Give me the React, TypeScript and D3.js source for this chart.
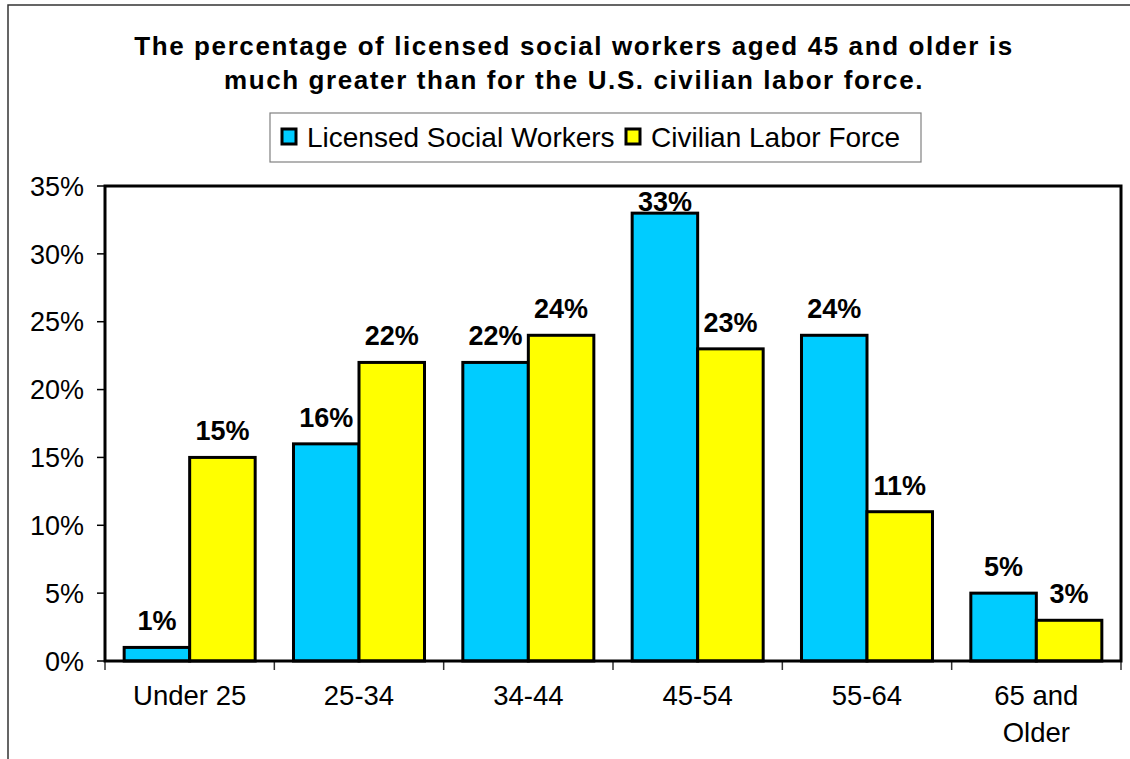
import React from 'react';
import { scaleBand, scaleLinear, range } from 'd3';

const categories = ['Under 25', '25-34', '34-44', '45-54', '55-64', '65 and Older'];
const categoryLines = [['Under 25'], ['25-34'], ['34-44'], ['45-54'], ['55-64'], ['65 and', 'Older']];
const seriesNames = ['Licensed Social Workers', 'Civilian Labor Force'];
const socialWorkers = [1, 16, 22, 33, 24, 5];
const laborForce = [15, 22, 24, 23, 11, 3];
const yTicks = [0, 5, 10, 15, 20, 25, 30, 35];
const titleLines = [
  'The percentage of licensed social workers aged 45 and older is',
  'much greater than for the U.S. civilian labor force.',
];

const colors = ['#00CCFF', '#FFFF00'];
const font = '"Liberation Sans", Arial, sans-serif';

const W = 1130;
const H = 759;
const plot = { left: 105, right: 1121, top: 186, bottom: 661 };

function App() {
  const x = scaleBand<string>().domain(categories).range([plot.left, plot.right]);
  const inner = scaleBand<string>()
    .domain(seriesNames)
    .range([0, x.bandwidth()])
    .paddingInner(0)
    .paddingOuter(0.2925);
  const y = scaleLinear().domain([0, 35]).range([plot.bottom, plot.top]);
  const series = [socialWorkers, laborForce];

  return (
    <div style={{ position: 'absolute', left: 0, top: 0 }}>
      <svg width={W} height={H} style={{ display: 'block', background: '#fff' }} fontFamily={font}>
        {/* outer chart border, runs off the picture at right and bottom */}
        <rect x={8} y={5} width={1200} height={900} fill="#fff" stroke="#333" strokeWidth={1.5} />

        {titleLines.map((t, i) => (
          <text
            key={i}
            x={574}
            y={55 + i * 34}
            textAnchor="middle"
            fontSize={26}
            fontWeight="bold"
            letterSpacing={1.6}
          >
            {t}
          </text>
        ))}

        {/* legend */}
        <rect x={270} y={113} width={651} height={49} fill="#fff" stroke="#808080" strokeWidth={1.2} />
        {seriesNames.map((s, i) => {
          const lx = i === 0 ? 282 : 626;
          return (
            <g key={s}>
              <rect x={lx} y={129} width={14} height={15} fill={colors[i]} stroke="#000" strokeWidth={3} />
              <text x={lx + 25} y={147} fontSize={28}>
                {s}
              </text>
            </g>
          );
        })}

        {/* y ticks */}
        {yTicks.map((t) => (
          <g key={t}>
            <line x1={97} x2={plot.left} y1={y(t)} y2={y(t)} stroke="#000" strokeWidth={1.5} />
            <text x={84} y={y(t)} dy="0.36em" textAnchor="end" fontSize={27}>
              {t}%
            </text>
          </g>
        ))}

        {/* x ticks */}
        {range(categories.length + 1).map((i) => {
          const tx = plot.left + i * x.step();
          return <line key={i} x1={tx} x2={tx} y1={plot.bottom} y2={plot.bottom + 9} stroke="#333" strokeWidth={1.5} />;
        })}

        {/* bars */}
        {categories.map((c, ci) =>
          seriesNames.map((s, si) => {
            const v = series[si][ci];
            const bx = (x(c) as number) + (inner(s) as number);
            return (
              <rect
                key={c + s}
                x={bx}
                y={y(v)}
                width={inner.bandwidth()}
                height={plot.bottom - y(v)}
                fill={colors[si]}
                stroke="#000"
                strokeWidth={3}
              />
            );
          })
        )}

        {/* plot frame */}
        <rect
          x={plot.left}
          y={plot.top}
          width={plot.right - plot.left}
          height={plot.bottom - plot.top}
          fill="none"
          stroke="#000"
          strokeWidth={3}
        />

        {/* data labels */}
        {categories.map((c, ci) =>
          seriesNames.map((s, si) => {
            const v = series[si][ci];
            const cx = (x(c) as number) + (inner(s) as number) + inner.bandwidth() / 2;
            const ly = Math.max(y(v) - 17, plot.top + 25);
            return (
              <text key={c + s} x={cx} y={ly} textAnchor="middle" fontSize={27} fontWeight="bold">
                {v}%
              </text>
            );
          })
        )}

        {/* category labels */}
        {categories.map((c, ci) => (
          <text key={c} x={(x(c) as number) + x.bandwidth() / 2} textAnchor="middle" fontSize={27.5}>
            {categoryLines[ci].map((ln, li) => (
              <tspan key={li} x={(x(c) as number) + x.bandwidth() / 2} y={705 + li * 37}>
                {ln}
              </tspan>
            ))}
          </text>
        ))}
      </svg>
    </div>
  );
}

export default App;
